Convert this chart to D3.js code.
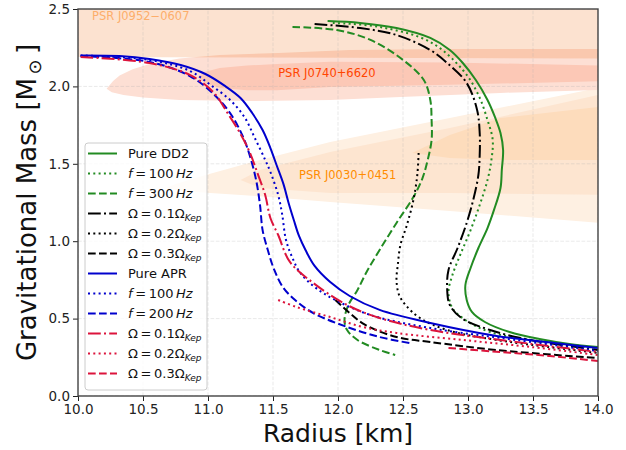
<!DOCTYPE html>
<html><head><meta charset="utf-8">
<script src="https://cdn.jsdelivr.net/npm/d3@7"></script>
<style>body{margin:0;background:#fff} text{font-family:"DejaVu Sans",sans-serif}</style>
</head><body><svg id="c" width="626" height="450"></svg>
<script>
// ---------- data ----------
const xTicks = [10.0,10.5,11.0,11.5,12.0,12.5,13.0,13.5,14.0];
const yTicks = [0.0,0.5,1.0,1.5,2.0,2.5];

// DD2 family
const R_DD2 = [11.92,12.17,12.45,12.71,12.86,12.96,13.06,13.15,13.21,13.25,13.27,13.26,13.25,13.20,13.15,13.08,13.02,12.98,12.99,13.03,13.13,13.32,13.55,13.78,14.0];
const M_DD2 = [2.422,2.41,2.377,2.313,2.235,2.151,2.041,1.912,1.796,1.699,1.589,1.460,1.344,1.202,1.085,0.956,0.827,0.717,0.620,0.543,0.478,0.413,0.368,0.336,0.317];
const R_DD2_f100 = [11.96,12.32,12.71,12.96,13.08,13.15,13.19,13.18,13.15,13.09,13.02,12.94,12.88,12.85,12.88,12.98,13.17,13.55,14.0];
const M_DD2_f100 = [2.41,2.384,2.287,2.106,1.945,1.783,1.654,1.525,1.395,1.234,1.072,0.911,0.781,0.672,0.568,0.491,0.413,0.355,0.310];
const R_DD2_f300 = [11.65,11.99,12.25,12.50,12.66,12.71,12.72,12.72,12.69,12.65,12.58,12.45,12.32,12.22,12.15,12.08,12.05,12.07,12.15,12.32,12.44];
const M_DD2_f300 = [2.384,2.364,2.30,2.171,2.041,1.912,1.783,1.654,1.525,1.408,1.285,1.118,0.943,0.801,0.685,0.588,0.491,0.426,0.362,0.297,0.265];
const R_DD2_o1 = [11.82,12.17,12.45,12.71,12.84,12.99,13.07,13.09,13.09,13.08,13.04,12.99,12.92,12.85,12.84,12.86,12.95,13.17,13.48,14.0];
const M_DD2_o1 = [2.403,2.377,2.332,2.235,2.151,2.022,1.848,1.699,1.557,1.428,1.266,1.118,0.956,0.814,0.685,0.588,0.504,0.426,0.362,0.297];
const R_DD2_o2 = [12.62,12.61,12.58,12.53,12.48,12.46,12.45,12.47,12.52,12.63,12.84,13.22,14.0];
const M_DD2_o2 = [1.570,1.428,1.266,1.105,0.975,0.846,0.749,0.652,0.588,0.504,0.426,0.362,0.278];
const R_DD2_o3 = [11.98,12.09,12.21,12.45,12.71,13.22,14.0];
const M_DD2_o3 = [0.62,0.536,0.459,0.381,0.349,0.297,0.245];

// APR family
const R_APR = [10.02,10.32,10.55,10.79,10.98,11.13,11.25,11.34,11.42,11.48,11.53,11.58,11.62,11.66,11.70,11.75,11.82,11.94,12.09,12.32,12.71,13.22,13.73,14.0];
const M_APR = [2.20,2.196,2.177,2.138,2.08,2.003,1.925,1.828,1.718,1.602,1.486,1.37,1.247,1.137,1.034,0.943,0.840,0.736,0.646,0.556,0.472,0.388,0.336,0.31];
const R_APR_f100 = [10.02,10.55,10.86,11.02,11.17,11.28,11.36,11.44,11.48,11.54,11.57,11.60,11.65,11.71,11.82,11.98,12.25,12.71,13.25,14.0];
const M_APR_f100 = [2.20,2.171,2.10,2.009,1.912,1.802,1.667,1.525,1.447,1.298,1.176,1.008,0.891,0.795,0.704,0.62,0.523,0.439,0.375,0.291];
const R_APR_f200 = [10.02,10.55,10.86,11.05,11.18,11.27,11.32,11.37,11.40,11.42,11.46,11.51,11.58,11.67,11.81,12.07,12.32,12.55];
const M_APR_f200 = [2.196,2.158,2.067,1.945,1.815,1.673,1.557,1.395,1.234,1.072,0.943,0.814,0.698,0.62,0.536,0.446,0.381,0.342];
const R_APR_o1 = [10.02,10.55,10.86,11.04,11.15,11.25,11.32,11.38,11.44,11.48,11.54,11.63,11.81,12.07,12.32,12.71,13.25,14.0];
const M_APR_o1 = [2.19,2.151,2.074,1.964,1.828,1.693,1.576,1.441,1.298,1.15,1.04,0.866,0.730,0.588,0.504,0.426,0.362,0.284];
const R_APR_o2 = [11.54,11.68,11.94,12.19,12.45,12.96,13.48,14.0];
const M_APR_o2 = [0.62,0.575,0.51,0.446,0.407,0.362,0.317,0.265];
const R_APR_o3 = [12.85,13.25,13.63,14.0];
const M_APR_o3 = [0.31,0.284,0.258,0.226];

// Pulsar constraint regions (boundary points, R in km, M in Msun)
const J0030_L1_R = [10.68,10.75,10.9,11.4,11.94,12.86,14.3,14.3,12.86,11.94,11.4,10.9,10.75];
const J0030_L1_M = [1.345,1.37,1.408,1.525,1.641,1.796,2.04,1.10,1.195,1.253,1.29,1.318,1.33];
const J0030_L2_R = [11.25,11.4,11.94,12.86,14.3,14.3,12.86,11.94,11.4];
const J0030_L2_M = [1.395,1.46,1.576,1.731,2.0,1.297,1.311,1.311,1.344];
const J0030_L3_R = [12.57,12.86,13.25,14.3,14.3,13.25,12.86];
const J0030_L3_M = [1.57,1.686,1.796,1.895,1.525,1.525,1.538];
const J0740_out_R = [10.22,10.27,10.32,10.42,10.55,10.78,11.09,11.54,12.09,12.86,14.3,14.3,13.25,12.48,11.94,11.32,10.78,10.5,10.35,10.26];
const J0740_out_M = [1.985,2.035,2.07,2.11,2.145,2.18,2.203,2.216,2.235,2.242,2.242,1.985,1.958,1.932,1.912,1.906,1.912,1.928,1.945,1.962];
const J0740_in_R = [10.92,10.98,11.09,11.3,11.53,11.94,12.86,14.3,14.3,12.86,11.94,11.53,11.3,11.09,10.98];
const J0740_in_M = [2.06,2.095,2.119,2.135,2.145,2.16,2.155,2.13,2.04,2.01,1.996,1.975,1.975,1.99,2.02];
const J0952_R = [9.8,14.2,14.2,9.8];
const J0952_M = [2.7,2.7,2.18,2.19];

const legendLabels = ["Pure DD2","f=100Hz","f=300Hz","Ω=0.1ΩKep","Ω=0.2ΩKep","Ω=0.3ΩKep",
                      "Pure APR","f=100Hz","f=200Hz","Ω=0.1ΩKep","Ω=0.2ΩKep","Ω=0.3ΩKep"];

// ---------- drawing ----------
const svg = d3.select("#c");
const x = d3.scaleLinear().domain([10,14]).range([78,598]);
const y = d3.scaleLinear().domain([0,2.5]).range([396,9]);
const GREEN="#228b22", BLUE="#0000cd", RED="#dc143c", BLACK="#000";
const DASH = {solid:null, dotted:"2,3.3", dashed:"7.7,3.3", dashdot:"12.8,3.2,2,3.2"};

const series = [
  {R:R_DD2, M:M_DD2, c:GREEN, d:"solid"},
  {R:R_DD2_f100, M:M_DD2_f100, c:GREEN, d:"dotted"},
  {R:R_DD2_f300, M:M_DD2_f300, c:GREEN, d:"dashed"},
  {R:R_DD2_o1, M:M_DD2_o1, c:BLACK, d:"dashdot"},
  {R:R_DD2_o2, M:M_DD2_o2, c:BLACK, d:"dotted"},
  {R:R_DD2_o3, M:M_DD2_o3, c:BLACK, d:"dashed"},
  {R:R_APR, M:M_APR, c:BLUE, d:"solid"},
  {R:R_APR_f100, M:M_APR_f100, c:BLUE, d:"dotted"},
  {R:R_APR_f200, M:M_APR_f200, c:BLUE, d:"dashed"},
  {R:R_APR_o1, M:M_APR_o1, c:RED, d:"dashdot"},
  {R:R_APR_o2, M:M_APR_o2, c:RED, d:"dotted"},
  {R:R_APR_o3, M:M_APR_o3, c:RED, d:"dashed"}
];

svg.append("defs").append("clipPath").attr("id","pc")
  .append("rect").attr("x",x(10)).attr("y",y(2.5)).attr("width",x(14)-x(10)).attr("height",y(0)-y(2.5));

const plot = svg.append("g").attr("clip-path","url(#pc)");

function region(Rs, Ms, fill, op){
  const pts = Rs.map((r,i)=>[r,Ms[i]]);
  plot.append("path").datum(pts)
    .attr("d", d3.line().x(d=>x(d[0])).y(d=>y(d[1])).curve(d3.curveLinearClosed))
    .attr("fill", fill).attr("fill-opacity", op).attr("stroke","none");
}
region(J0030_L1_R, J0030_L1_M, "#fef0e2", 1);
region(J0030_L2_R, J0030_L2_M, "#fde5d0", 1);
region(J0030_L3_R, J0030_L3_M, "#fddcbc", 1);
region(J0740_out_R, J0740_out_M, "#fddfd4", 1);
region(J0740_in_R, J0740_in_M, "#fcc8b6", 1);
region(J0952_R, J0952_M, "rgb(241,118,33)", 0.212);

// grid
const grid = plot.append("g");
xTicks.forEach(t=>grid.append("line").attr("x1",x(t)).attr("x2",x(t)).attr("y1",y(0)).attr("y2",y(2.5)));
yTicks.forEach(t=>grid.append("line").attr("x1",x(10)).attr("x2",x(14)).attr("y1",y(t)).attr("y2",y(t)));
grid.selectAll("line").attr("stroke","#b0b0b0").attr("stroke-opacity",0.35).attr("stroke-width",0.8).attr("stroke-dasharray","3.7,1.6");

// pulsar labels
const lab = plot.append("g").attr("font-size","11.5px");
lab.append("text").attr("x",x(10.108)).attr("y",y(2.43)).attr("fill","#fdae6b").text("PSR J0952\u22120607");
lab.append("text").attr("x",x(11.54)).attr("y",y(2.06)).attr("fill","#ff4500").text("PSR J0740+6620");
lab.append("text").attr("x",x(11.70)).attr("y",y(1.40)).attr("fill","#ff8c00").text("PSR J0030+0451");

// curves
const line = d3.line().x(d=>x(d[0])).y(d=>y(d[1])).curve(d3.curveCatmullRom.alpha(0.5));
series.forEach(s=>{
  const pts = s.R.map((r,i)=>[r,s.M[i]]);
  plot.append("path").datum(pts).attr("d",line)
    .attr("fill","none").attr("stroke",s.c).attr("stroke-width",2)
    .attr("stroke-dasharray",DASH[s.d]);
});

// axes
const fmt = d3.format(".1f");
const xa = svg.append("g").attr("transform",`translate(0,${y(0)})`)
  .call(d3.axisBottom(x).tickValues(xTicks).tickFormat(fmt).tickSize(5).tickPadding(3).tickSizeOuter(0));
const ya = svg.append("g").attr("transform",`translate(${x(10)},0)`)
  .call(d3.axisLeft(y).tickValues(yTicks).tickFormat(fmt).tickSize(5).tickPadding(3).tickSizeOuter(0));
[xa,ya].forEach(a=>{
  a.select(".domain").remove();
  a.selectAll("text").attr("font-size","13.5px").attr("fill","#222").attr("font-family","DejaVu Sans");
  a.selectAll("line").attr("stroke","#222").attr("stroke-width",1);
});
svg.append("rect").attr("x",x(10)).attr("y",y(2.5)).attr("width",x(14)-x(10)).attr("height",y(0)-y(2.5))
  .attr("fill","none").attr("stroke","#444").attr("stroke-width",1.4);

// axis labels
svg.append("text").attr("x",(x(10)+x(14))/2).attr("y",442).attr("text-anchor","middle")
  .attr("font-size","25px").attr("fill","#111").text("Radius [km]");
const yl = svg.append("text").attr("transform",`translate(36,${(y(0)+y(2.5))/2}) rotate(-90)`)
  .attr("text-anchor","middle").attr("font-size","26px").attr("fill","#111");
yl.append("tspan").text("Gravitational Mass [M");
yl.append("tspan").attr("font-size","18px").attr("dy",5).text("\u2009\u2299");
yl.append("tspan").attr("dy",-5).text("\u2009]");

// legend
const lg = svg.append("g");
lg.append("rect").attr("x",85).attr("y",143).attr("width",122).attr("height",247).attr("rx",3)
  .attr("fill","#fff").attr("fill-opacity",0.8).attr("stroke","#cccccc").attr("stroke-width",1);
legendLabels.forEach((lbl,i)=>{
  const s = series[i];
  const yy = 153.5 + 20*i;
  lg.append("line").attr("x1",88).attr("x2",117).attr("y1",yy).attr("y2",yy)
    .attr("stroke",s.c).attr("stroke-width",2).attr("stroke-dasharray",DASH[s.d]);
  const t = lg.append("text").attr("x",128).attr("y",yy+4.7).attr("font-size","13px").attr("fill","#111");
  if (lbl.startsWith("f=")) {
    const num = lbl.slice(2,-2);
    t.append("tspan").attr("font-style","italic").text("f");
    t.append("tspan").text("\u2009=\u2009"+num+"\u2009");
    t.append("tspan").attr("font-style","italic").text("Hz");
  } else if (lbl.startsWith("Ω=")) {
    const num = lbl.slice(2,5);
    t.append("tspan").text("\u03A9\u2009=\u2009"+num+"\u03A9");
    t.append("tspan").attr("font-style","italic").attr("font-size","9px").attr("dy",3).text("Kep");
  } else {
    t.text(lbl);
  }
});
</script></body></html>
